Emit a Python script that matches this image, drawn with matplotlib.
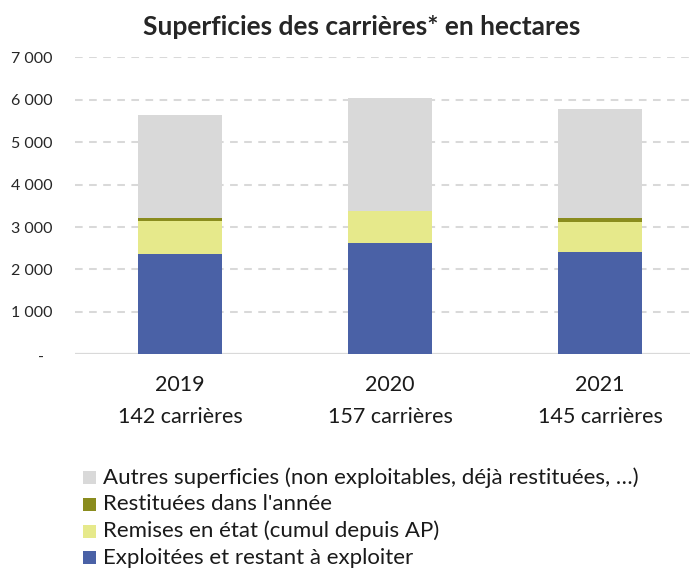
import matplotlib.pyplot as plt
import matplotlib.patches as mpatches
import matplotlib.transforms as mtransforms
import numpy as np

plt.rcParams['font.family'] = ['Lato', 'DejaVu Sans']

years = ['2019', '2020', '2021']
nb_carrieres = ['142 carrières', '157 carrières', '145 carrières']
exploitees = [2360, 2615, 2410]
remises = [780, 755, 710]
restituees = [70, 10, 90]
autres = [2420, 2660, 2580]

series_labels = [
    'Exploitées et restant à exploiter',
    'Remises en état (cumul depuis AP)',
    "Restituées dans l'année",
    'Autres superficies (non exploitables, déjà restituées, …)',
]
colors = ['#4A61A6', '#E6E98B', '#8A8C1E', '#D9D9D9']
yticks = [0, 1000, 2000, 3000, 4000, 5000, 6000, 7000]

W, H = 690, 568
fig = plt.figure(figsize=(W / 100, H / 100), dpi=100, facecolor='white')
ax = fig.add_axes([75 / W, 1 - 354.3 / H, 1 - 75 / W, (354.3 - 57.3) / H])

x = np.arange(len(years))
bottom = np.zeros(len(years))
for vals, col in zip([exploitees, remises, restituees, autres], colors):
    ax.bar(x, vals, width=0.4, bottom=bottom, color=col, zorder=3)
    bottom += np.array(vals)

ax.set_xlim(-0.5, -0.5 + (W - 75) / 210)
ax.set_ylim(0, 7000)

for yv in yticks[1:]:
    ax.axhline(yv, color='#D9D9D9', lw=1.45, linestyle=(0, (3.8, 3.2)), zorder=1)
ax.axhline(0, color='#D9D9D9', lw=1.6, zorder=2)

for s in ax.spines.values():
    s.set_visible(False)

ax.set_yticks(yticks)
ax.set_yticklabels(['-'] + [f'{v:,}'.replace(',', ' ') for v in yticks[1:]])
ax.tick_params(axis='y', length=0, pad=16, labelsize=11.5, labelcolor='#262626')
ax.tick_params(axis='x', length=0, labelbottom=False)
lab0 = ax.get_yticklabels()[0]
lab0.set_transform(lab0.get_transform() + mtransforms.ScaledTranslation(-0.09, -0.02, fig.dpi_scale_trans))

trans = mtransforms.blended_transform_factory(ax.transData, fig.transFigure)
for i, (yr, nb) in enumerate(zip(years, nb_carrieres)):
    ax.text(i, 1 - 385 / H, yr, transform=trans, ha='center', va='center',
            fontsize=15.5, color='#1a1a1a')
    ax.text(i, 1 - 417 / H, nb, transform=trans, ha='center', va='center',
            fontsize=15.5, color='#1a1a1a')

fig.text(362 / W, 1 - 27 / H, 'Superficies des carrières* en hectares',
         ha='center', va='center', fontsize=19, fontweight='bold', color='#262626')

# legende (ordre inverse, comme dans l'original)
rows_y = [477.3, 504, 531, 557.7]
for yy, lab, col in zip(rows_y, series_labels[::-1], colors[::-1]):
    fig.add_artist(mpatches.Rectangle((83 / W, 1 - (yy + 6.5) / H), 13 / W, 13 / H,
                                      transform=fig.transFigure, facecolor=col,
                                      edgecolor='none'))
    fig.text(103 / W, 1 - yy / H, lab, ha='left', va='center',
             fontsize=16, color='#1a1a1a')

plt.savefig('out.png', dpi=100, facecolor='white')
plt.close()
